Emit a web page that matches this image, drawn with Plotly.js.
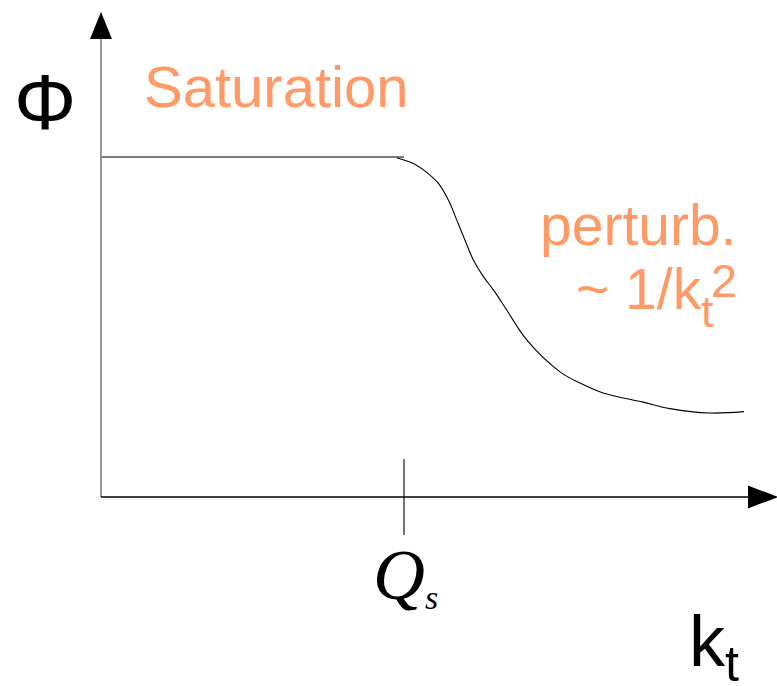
<!DOCTYPE html>
<html>
<head>
<meta charset="utf-8">
<script src="https://cdn.plot.ly/plotly-3.0.1.min.js"></script>
<style>html,body{margin:0;padding:0;background:#fff;}#chart{width:777px;height:686px;}</style>
</head>
<body>
<div id="chart"></div>
<script>
// Sketch of the unintegrated gluon distribution Φ versus transverse momentum k_t
// x in units of Q_s, y in units of the saturation plateau
const plateauKt  = [0.000, 1.000];
const plateauPhi = [1.000, 1.000];
const tailKt  = [0.976, 1.031, 1.064, 1.113, 1.146, 1.174, 1.201, 1.229, 1.262, 1.295, 1.339, 1.405, 1.515, 1.581, 1.657, 1.789, 1.878, 2.010, 2.122];
const tailPhi = [0.998, 0.981, 0.962, 0.923, 0.874, 0.815, 0.756, 0.697, 0.648, 0.609, 0.550, 0.462, 0.368, 0.335, 0.306, 0.279, 0.260, 0.247, 0.251];
const qsValue = 1.0;
const yLabel = 'Φ';
const xLabel = 'k<sub>t</sub>';
const qsLabel = 'Q';
const qsSub = 's';
const satLabel = 'Saturation';
const pertLabel1 = 'perturb.';
const pertLabel2 = '~ 1/k';
const pertSub = 't';
const pertSup = '2';

const W = 777, H = 686;
// pixel scale: origin at (101,497), Q_s at x=404, plateau at y=157
const pxPerX = 303, pxPerY = 340;
const x0 = 101, y0 = 497;
const xr = [-x0 / pxPerX, (W - x0) / pxPerX];
const yr = [-(H - y0) / pxPerY, y0 / pxPerY];
const dx = p => p / pxPerX;   // pixels -> x units
const dy = p => p / pxPerY;   // pixels -> y units

const orange = '#ff9966';
const sans = 'Liberation Sans, Arial, sans-serif';
const serif = 'Liberation Serif, Times New Roman, serif';

const traces = [
  {x: plateauKt, y: plateauPhi, type: 'scatter', mode: 'lines',
   line: {color: '#000', width: 1.1}, hoverinfo: 'skip', showlegend: false},
  {x: tailKt, y: tailPhi, type: 'scatter', mode: 'lines',
   line: {color: '#000', width: 1.1, shape: 'spline', smoothing: 1.0},
   hoverinfo: 'skip', showlegend: false}
];

const yTop = dy(y0 - 39), yTip = dy(y0 - 12);
const xEnd = dx(748 - x0), xTip = dx(778 - x0);

const shapes = [
  // y axis (gray)
  {type: 'line', xref: 'x', yref: 'y', x0: 0, x1: 0, y0: 0, y1: yTop, line: {color: '#808080', width: 1.6}},
  {type: 'path', xref: 'x', yref: 'y',
   path: `M ${-dx(11)} ${yTop} L ${dx(11)} ${yTop} L 0 ${yTip} Z`, fillcolor: '#000', line: {width: 0}},
  // x axis
  {type: 'line', xref: 'x', yref: 'y', x0: 0, x1: xEnd, y0: 0, y1: 0, line: {color: '#000', width: 1.4}},
  {type: 'path', xref: 'x', yref: 'y',
   path: `M ${xEnd} ${-dy(11.5)} L ${xEnd} ${dy(11.5)} L ${xTip} 0 Z`, fillcolor: '#000', line: {width: 0}},
  // Q_s tick
  {type: 'line', xref: 'x', yref: 'y', x0: qsValue, x1: qsValue, y0: -dy(38), y1: dy(38), line: {color: '#000', width: 1.1}}
];

const px = p => p / W, py = p => 1 - p / H;
const ann = (text, x, y, xa, font) => ({text, xref: 'paper', yref: 'paper', x: px(x), y: py(y),
  xanchor: xa, yanchor: 'middle', showarrow: false, borderpad: 0, font});
const annotations = [
  ann(yLabel, 44.5, 101.5, 'center', {family: sans, size: 78, color: '#000'}),
  ann(satLabel, 276, 86, 'center', {family: sans, size: 58, color: orange}),
  ann(pertLabel1, 737, 225, 'right', {family: sans, size: 57, color: orange}),
  ann(pertLabel2, 703, 288.5, 'right', {family: sans, size: 57, color: orange}),
  ann(pertSub, 707.5, 311, 'center', {family: sans, size: 45, color: orange}),
  ann(pertSup, 723.5, 280.5, 'center', {family: sans, size: 47, color: orange}),
  ann(qsLabel, 399, 575, 'center', {family: serif, size: 72, color: '#000', style: 'italic'}),
  ann(qsSub, 431, 597, 'center', {family: serif, size: 34, color: '#000', style: 'italic'}),
  ann(xLabel, 714, 646, 'center', {family: sans, size: 72, color: '#000'})
];

const layout = {
  width: W, height: H, autosize: false,
  margin: {l: 0, r: 0, t: 0, b: 0, pad: 0},
  paper_bgcolor: '#fff', plot_bgcolor: '#fff',
  xaxis: {range: xr, visible: false, fixedrange: true},
  yaxis: {range: yr, visible: false, fixedrange: true},
  shapes: shapes, annotations: annotations, showlegend: false
};

Plotly.newPlot('chart', traces, layout, {staticPlot: true, displayModeBar: false});
</script>
</body>
</html>
